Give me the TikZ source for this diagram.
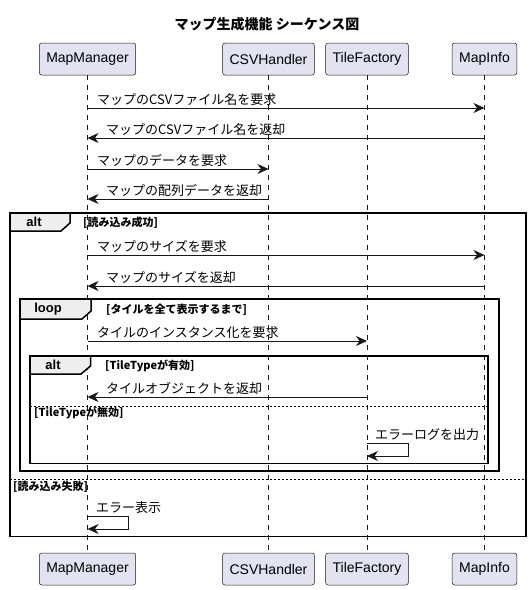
\documentclass[tikz,border=0pt]{standalone}
\usepackage{fontspec}
\setmainfont{Liberation Sans}
\newfontfamily\jp{Noto Sans CJK JP}
\usetikzlibrary{arrows.meta}
\definecolor{umlline}{HTML}{181818}
\definecolor{umlbox}{HTML}{E2E2F0}
\definecolor{umltab}{HTML}{EEEEEE}
\tikzset{>={Stealth[length=11pt,width=10pt,inset=3.5pt]}}
\tikzset{
  actor/.style={draw=umlline, fill=umlbox, rounded corners=2.5pt, line width=0.5pt, minimum height=32pt, inner xsep=7pt, font=\fontsize{14}{16}\selectfont},
  lifeline/.style={draw=umlline, line width=0.5pt, dash pattern=on 5pt off 5pt},
  msg/.style={->, draw=umlline, line width=1pt},
  msgtext/.style={anchor=base west, inner sep=0pt, font=\jp\fontsize{13}{15}\selectfont},
  frame/.style={draw=black, line width=1.5pt},
  tabtext/.style={inner sep=0pt, font=\bfseries\fontsize{13}{15}\selectfont},
  guard/.style={anchor=west, inner sep=0pt, font=\jp\bfseries\fontsize{11}{13}\selectfont},
  sep/.style={draw=black, line width=0.8pt, dash pattern=on 2pt off 2pt}
}

\begin{document}
\begin{tikzpicture}[x=1pt, y=-1pt]
    \useasboundingbox (0,0) rectangle (532,590);
    \node[font=\jp\bfseries\fontsize{14}{16}\selectfont] (title) at (267,24) {マップ生成機能 シーケンス図};
    \node[actor] (MM) at (87.5,59) {MapManager};
    \node[actor] (CSV) at (268.5,59) {CSVHandler};
    \node[actor] (TF) at (367,59) {TileFactory};
    \node[actor] (MI) at (484.5,59) {MapInfo};
    \node[actor] (MMb) at (87.5,569) {MapManager};
    \node[actor] (CSVb) at (268.5,569) {CSVHandler};
    \node[actor] (TFb) at (367,569) {TileFactory};
    \node[actor] (MIb) at (484.5,569) {MapInfo};
    \draw[lifeline] (MM) -- (MMb);
    \draw[lifeline] (CSV) -- (CSVb);
    \draw[lifeline] (TF) -- (TFb);
    \draw[lifeline] (MI) -- (MIb);

    \draw[msg] (MM |- 0,108) -- (MI |- 0,108);
    \node[msgtext] (t1) at (97,104) {マップのCSVファイル名を要求};
    \draw[msg] (MI |- 0,138) -- (MM |- 0,138);
    \node[msgtext] (t2) at (106,134) {マップのCSVファイル名を返却};
    \draw[msg] (MM |- 0,169) -- (CSV |- 0,169);
    \node[msgtext] (t3) at (97,165) {マップのデータを要求};
    \draw[msg] (CSV |- 0,199) -- (MM |- 0,199);
    \node[msgtext] (t4) at (106,195) {マップの配列データを返却};

    \draw[frame, fill=umltab] (10,213) -- (70,213) -- (70,223) -- (61,231) -- (10,231);
    \draw[frame] (10,213) rectangle (526,536.5);
    \node[tabtext] (alt1) at (34,222) {alt};
    \node[guard] (g1) at (83,223) {[読み込み成功]};
    \draw[msg] (MM |- 0,255) -- (MI |- 0,255);
    \node[msgtext] (t5) at (97,251) {マップのサイズを要求};
    \draw[msg] (MI |- 0,286) -- (MM |- 0,286);
    \node[msgtext] (t6) at (106,282) {マップのサイズを返却};

    \draw[frame, fill=umltab] (20,299) -- (91,299) -- (91,311) -- (82,319) -- (20,319);
    \draw[frame] (20,299) rectangle (499,471);
    \node[tabtext] (loop1) at (48,309) {loop};
    \node[guard] (g2) at (106,310) {[タイルを全て表示するまで]};
    \draw[msg] (MM |- 0,341) -- (TF |- 0,341);
    \node[msgtext] (t7) at (97,337) {タイルのインスタンス化を要求};

    \draw[frame, fill=umltab] (30,356) -- (90.5,356) -- (90.5,366) -- (81,374) -- (30,374);
    \draw[frame] (30,356) rectangle (488,463.5);
    \node[tabtext] (alt2) at (53,365) {alt};
    \node[guard] (g3) at (105,366) {[TileTypeが有効]};
    \draw[msg] (TF |- 0,397) -- (MM |- 0,397);
    \node[msgtext] (t8) at (106,393) {タイルオブジェクトを返却};
    \draw[sep] (30,406) -- (488,406);
    \node[guard] (g4) at (34,413) {[TileTypeが無効]};
    \draw[msg] (TF |- 0,443) -- ++(41,0) -- ++(0,13) -- (TF |- 0,456);
    \node[msgtext] (t9) at (375,439) {エラーログを出力};

    \draw[sep] (10,479) -- (526,479);
    \node[guard] (g5) at (13,487) {[読み込み失敗]};
    \draw[msg] (MM |- 0,516.5) -- ++(41,0) -- ++(0,12.5) -- (MM |- 0,529);
    \node[msgtext] (t10) at (96,512) {エラー表示};
\end{tikzpicture}
\end{document}
